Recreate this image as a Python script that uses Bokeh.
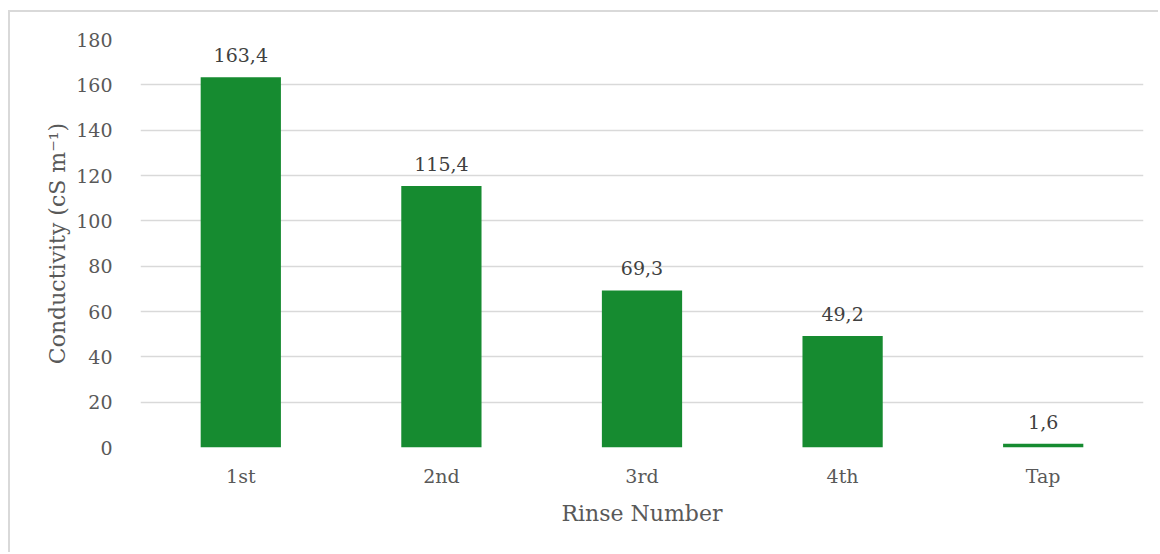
from bokeh.plotting import figure
from bokeh.models import ColumnDataSource, FactorRange, Range1d, FixedTicker
from bokeh.core.properties import value
from bokeh.embed import file_html
from bokeh.resources import INLINE

categories = ["1st", "2nd", "3rd", "4th", "Tap"]
conductivity = [163.4, 115.4, 69.3, 49.2, 1.6]
labels = ["163,4", "115,4", "69,3", "49,2", "1,6"]
y_ticks = [0, 20, 40, 60, 80, 100, 120, 140, 160, 180]

FONT = "DejaVu Serif"

src = ColumnDataSource(dict(cat=categories, val=conductivity, lab=labels))

p = figure(
    width=1150, height=542,
    x_range=FactorRange(*categories, range_padding=0),
    y_range=Range1d(0, 180),
    output_backend="svg", toolbar_location=None,
    min_border_left=130, min_border_right=17, min_border_top=27, min_border_bottom=107,
    styles={"margin-left": "8px", "margin-top": "10px",
            "border-left": "2px solid #d9d9d9", "border-top": "2px solid #d9d9d9"},
)
p.outline_line_color = None

p.vbar(x="cat", top="val", width=0.4, source=src, fill_color="#168B30", line_color=None)
p.text(x="cat", y="val", text="lab", source=src, text_align="center",
       text_baseline="alphabetic", y_offset=-22, text_font=value(FONT),
       text_font_size="19px", text_color="#404040")

p.yaxis.ticker = FixedTicker(ticks=y_ticks)
p.ygrid.ticker = FixedTicker(ticks=y_ticks)
p.ygrid.grid_line_color = "#d9d9d9"
p.ygrid.grid_line_width = 1.5
p.xgrid.grid_line_color = None

for ax in (p.xaxis[0], p.yaxis[0]):
    ax.axis_line_color = None
    ax.major_tick_line_color = None
    ax.minor_tick_line_color = None
    ax.major_label_text_font = FONT
    ax.major_label_text_font_size = "19px"
    ax.major_label_text_color = "#595959"
    ax.axis_label_text_font = FONT
    ax.axis_label_text_font_size = "22px"
    ax.axis_label_text_font_style = "normal"
    ax.axis_label_text_color = "#595959"

p.yaxis.axis_label = "Conductivity (cS m⁻¹)"
p.xaxis.axis_label = "Rinse Number"
p.yaxis.major_label_standoff = 22
p.yaxis.axis_label_standoff = 3
p.xaxis.major_label_standoff = 11
p.xaxis.axis_label_standoff = 11

open("out.html", "w").write(file_html(p, INLINE))
